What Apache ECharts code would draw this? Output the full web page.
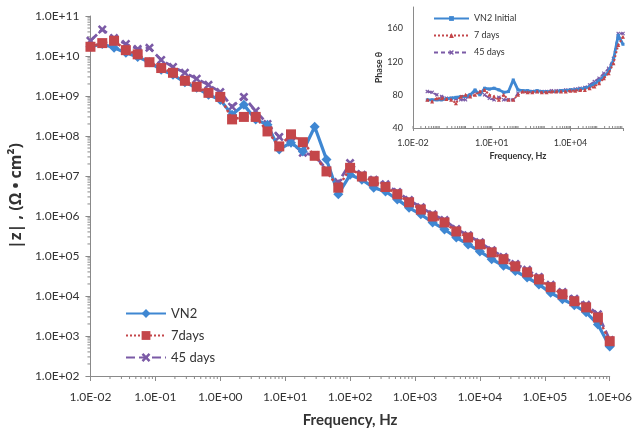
<!DOCTYPE html>
<html>
<head>
<meta charset="utf-8">
<script src="https://cdn.jsdelivr.net/npm/echarts@6/dist/echarts.min.js"></script>
<style>
html,body{margin:0;padding:0;background:#fff;}
#c{width:635px;height:433px;}
</style>
</head>
<body>
<div id="c"></div>
<script>
// Frequencies (Hz)
const freq = [0.01, 0.0152, 0.0231, 0.0351, 0.0534, 0.0811, 0.123, 0.187, 0.285, 0.433, 0.658, 1.0, 1.52, 2.31, 3.51, 5.34, 8.11, 12.3, 18.7, 28.5, 43.3, 65.8, 100, 152, 231, 351, 534, 811, 1230, 1870, 2850, 4330, 6580, 10000, 15200, 23100, 35100, 53400, 81100, 123000, 187000, 285000, 433000, 658000, 1000000];
// |Z| values (ohm cm2)
const zVN2 = [1.7e10, 2.0e10, 1.6e10, 1.2e10, 9.5e9, 7.0e9, 4.5e9, 3.4e9, 2.2e9, 1.6e9, 1.07e9, 8.0e8, 3.4e8, 6.0e8, 2.6e8, 1.9e8, 4.6e7, 6.8e7, 4.1e7, 1.7e8, 2.6e7, 3.5e6, 1.07e7, 8.1e6, 5.1e6, 4.1e6, 2.6e6, 1.6e6, 1.1e6, 6.9e5, 4.6e5, 2.9e5, 1.95e5, 1.3e5, 8.3e4, 5.7e4, 4.2e4, 2.9e4, 1.95e4, 1.2e4, 8.3e3, 5.9e3, 3.9e3, 1.95e3, 5.5e2];
const z7d = [1.7e10, 2.1e10, 2.4e10, 1.4e10, 1.1e10, 7.0e9, 5.0e9, 3.8e9, 2.4e9, 1.7e9, 1.2e9, 9.5e8, 2.6e8, 3.0e8, 3.0e8, 1.3e8, 5.5e7, 1.1e8, 7.0e7, 3.2e7, 1.3e7, 5.1e6, 1.6e7, 9.7e6, 7.3e6, 5.3e6, 3.5e6, 2.2e6, 1.45e6, 9.7e5, 6.9e5, 4.1e5, 2.9e5, 1.95e5, 1.23e5, 8.3e4, 5.5e4, 3.9e4, 2.6e4, 1.66e4, 1.1e4, 7.4e3, 5.2e3, 2.9e3, 7.4e2];
const z45d = [2.4e10, 4.6e10, 2.8e10, 2.0e10, 1.5e10, 1.6e10, 8.0e9, 5.3e9, 3.8e9, 2.7e9, 1.9e9, 1.25e9, 5.4e8, 9.5e8, 4.2e8, 2.0e8, 9.5e7, 7.0e7, 3.8e7, 3.3e7, 1.45e7, 6.8e6, 2.1e7, 1.07e7, 8.1e6, 6.2e6, 4.0e6, 2.5e6, 1.65e6, 1.1e6, 7.9e5, 4.7e5, 3.3e5, 2.2e5, 1.4e5, 9.5e4, 6.3e4, 4.5e4, 3.0e4, 1.9e4, 1.26e4, 8.5e3, 6.0e3, 3.5e3, 8.0e2];
// Phase inset
const phaseFreq = [0.0351, 0.0534, 0.0811, 0.123, 0.187, 0.285, 0.433, 0.658, 1.0, 1.52, 2.31, 3.51, 5.34, 8.11, 12.3, 18.7, 28.5, 43.3, 65.8, 100, 152, 231, 351, 534, 811, 1230, 1870, 2850, 4330, 6580, 10000, 15200, 23100, 35100, 53400, 81100, 123000, 187000, 285000, 433000, 658000, 1000000];
const pVN2 = [74, 74, 74, 74, 75, 76, 77, 78, 78, 80, 86, 80, 88, 87, 88, 86, 83, 84, 98, 86, 85, 85, 84, 85, 84, 84, 84, 84, 85, 85, 86, 86, 87, 88, 90, 93, 97, 102, 108, 122, 152, 141];
const p7d = [74, 72, 76, 76, 75, 74, 70, 78, 80, 78, 80, 84, 86, 80, 78, 74, 80, 74, 74, 80, 84, 83, 83, 84, 83, 83, 84, 84, 84, 84, 85, 85, 86, 86, 88, 90, 94, 100, 106, 118, 140, 150];
const p45d = [84, 83, 80, 78, 76, 76, 75, 74, 74, 80, 84, 82, 80, 76, 74, 77, 74, 74, 74, 82, 84, 84, 84, 84, 84, 84, 85, 85, 85, 86, 86, 87, 88, 89, 92, 96, 100, 106, 112, 124, 154, 154];
const mainNames = ['VN2', '7days', '45 days'];
const insetNames = ['VN2 Initial', '7 days', '45 days'];

const BLUE = '#3f87d2', RED = '#c4464a', PURPLE = '#7b5aa6';
const FONT = 'Lato, "Open Sans", sans-serif';
const XSYM = 'path://M2,0 L5,3 L8,0 L10,2 L7,5 L10,8 L8,10 L5,7 L2,10 L0,8 L3,5 L0,2 Z';

function fmtE(v) {
  const e = Math.round(Math.log10(v));
  const s = e < 0 ? '-' : '+';
  const a = Math.abs(e);
  return '1.0E' + s + (a < 10 ? '0' + a : a);
}
function pairs(xs, ys) { return xs.map((x, i) => [x, ys[i]]); }

// log minor tick values for axis decoration
const minorX = [];
for (let e = -2; e < 6; e++) for (let m = 2; m <= 9; m++) minorX.push(+(m * Math.pow(10, e)).toPrecision(3));
const minorY = [];
for (let e = 2; e < 11; e++) for (let m = 2; m <= 9; m++) minorY.push(+(m * Math.pow(10, e)).toPrecision(3));
const insetX = [];
for (let e = -2; e < 6; e++) for (let m = 1; m <= 9; m++) insetX.push(+(m * Math.pow(10, e)).toPrecision(3));

const axisGray = '#8a8a8a';
const chart = echarts.init(document.getElementById('c'));
chart.setOption({
  animation: false,
  textStyle: { fontFamily: FONT },
  grid: [
    { left: 89, top: 16, width: 523, height: 361 },
    { left: 413, top: 7, width: 210, height: 121, backgroundColor: '#fff', show: true, borderWidth: 0 }
  ],
  legend: [
    {
      data: mainNames, orient: 'vertical', left: 120, top: 302, itemWidth: 40, itemHeight: 11, itemGap: 9,
      textStyle: { fontSize: 13, color: '#333', fontFamily: FONT }
    },
    {
      data: insetNames.map(n => 'p:' + n), orient: 'vertical', left: 428, top: 9, itemWidth: 35, itemHeight: 6, itemGap: 8,
      formatter: n => n.slice(2),
      textStyle: { fontSize: 9, color: '#333', fontFamily: FONT }
    }
  ],
  xAxis: [
    {
      type: 'log', gridIndex: 0, logBase: 10, min: 0.01, max: 1e6, interval: 1,
      name: 'Frequency, Hz', nameLocation: 'middle', nameGap: 37,
      nameTextStyle: { fontSize: 15, fontWeight: 'bold', color: '#333', fontFamily: FONT },
      axisLine: { lineStyle: { color: axisGray } },
      axisTick: { length: 5, lineStyle: { color: axisGray } },
      axisLabel: { formatter: fmtE, fontSize: 12, color: '#333', margin: 15 },
      splitLine: { show: false }
    },
    {
      type: 'log', gridIndex: 1, logBase: 10, min: 0.01, max: 1e6, interval: 3,
      name: 'Frequency, Hz', nameLocation: 'middle', nameGap: 24,
      nameTextStyle: { fontSize: 9, fontWeight: 'bold', color: '#333', fontFamily: FONT },
      axisLine: { lineStyle: { color: axisGray } },
      axisTick: { length: 3, lineStyle: { color: axisGray } },
      axisLabel: {
        fontSize: 9, color: '#333', margin: 11,
        formatter: v => { const e = Math.round(Math.log10(v)); return ((e + 2) % 3 === 0) ? fmtE(v) : ''; }
      },
      splitLine: { show: false }
    }
  ],
  yAxis: [
    {
      type: 'log', gridIndex: 0, logBase: 10, min: 100, max: 1e11, interval: 1,
      name: '|z| , (Ω • cm²)', nameLocation: 'middle', nameGap: 66,
      nameTextStyle: { fontSize: 16, fontWeight: 'bold', color: '#333', fontFamily: '"Open Sans", Lato, sans-serif' },
      axisLine: { show: true, lineStyle: { color: axisGray } },
      axisTick: { show: true, length: 5, lineStyle: { color: axisGray } },
      axisLabel: { formatter: fmtE, fontSize: 12, color: '#333', margin: 11 },
      splitLine: { show: false }
    },
    {
      type: 'value', gridIndex: 1, min: 40, max: 186, interval: 40,
      name: 'Phase θ', nameLocation: 'middle', nameGap: 26,
      nameTextStyle: { fontSize: 9, fontWeight: 'bold', color: '#333', fontFamily: FONT },
      axisLine: { show: true, lineStyle: { color: axisGray } },
      axisTick: { show: false },
      axisLabel: { fontSize: 9, color: '#333', margin: 10, showMaxLabel: false,
        formatter: v => (v % 40 === 0 ? String(v) : '') },
      splitLine: { show: false }
    }
  ],
  series: [
    {
      name: 'minorX', type: 'custom', xAxisIndex: 0, yAxisIndex: 0, silent: true, clip: false,
      data: minorX.map(v => [v]),
      renderItem: (p, api) => { const c = api.coord([api.value(0), 100]); return { type: 'line', shape: { x1: c[0], y1: c[1], x2: c[0], y2: c[1] + 3 }, style: { stroke: axisGray, lineWidth: 1 } }; }
    },
    {
      name: 'minorY', type: 'custom', xAxisIndex: 0, yAxisIndex: 0, silent: true, clip: false,
      data: minorY.map(v => [0.01, v]),
      renderItem: (p, api) => { const c = api.coord([0.01, api.value(1)]); return { type: 'line', shape: { x1: c[0] - 3, y1: c[1], x2: c[0], y2: c[1] }, style: { stroke: axisGray, lineWidth: 1 } }; }
    },
    {
      name: 'insetTicks', type: 'custom', xAxisIndex: 1, yAxisIndex: 1, silent: true, clip: false,
      data: insetX.map(v => [v]),
      renderItem: (p, api) => { const c = api.coord([api.value(0), 40]); return { type: 'line', shape: { x1: c[0], y1: c[1] - 2, x2: c[0], y2: c[1] }, style: { stroke: axisGray, lineWidth: 1 } }; }
    },
    {
      name: mainNames[0], type: 'line', xAxisIndex: 0, yAxisIndex: 0, data: pairs(freq, zVN2),
      symbol: 'diamond', symbolSize: 10, color: BLUE,
      lineStyle: { width: 3.2, color: BLUE }, itemStyle: { color: BLUE }, z: 3
    },
    {
      name: mainNames[1], type: 'line', xAxisIndex: 0, yAxisIndex: 0, data: pairs(freq, z7d),
      symbol: 'rect', symbolSize: 10, color: RED,
      lineStyle: { width: 2.5, type: 'dotted', color: RED }, itemStyle: { color: RED }, z: 4
    },
    {
      name: mainNames[2], type: 'line', xAxisIndex: 0, yAxisIndex: 0, data: pairs(freq, z45d),
      symbol: XSYM, symbolSize: 9, color: PURPLE,
      lineStyle: { width: 2.8, type: [9, 4], color: PURPLE }, itemStyle: { color: PURPLE }, z: 2
    },
    {
      name: 'p:' + insetNames[0], type: 'line', xAxisIndex: 1, yAxisIndex: 1, data: pairs(phaseFreq, pVN2),
      symbol: 'rect', symbolSize: 3, color: BLUE,
      lineStyle: { width: 2.8, color: BLUE }, itemStyle: { color: BLUE }, z: 3
    },
    {
      name: 'p:' + insetNames[1], type: 'line', xAxisIndex: 1, yAxisIndex: 1, data: pairs(phaseFreq, p7d),
      symbol: 'triangle', symbolSize: 4, color: RED,
      lineStyle: { width: 2, type: 'dotted', color: RED }, itemStyle: { color: RED }, z: 4
    },
    {
      name: 'p:' + insetNames[2], type: 'line', xAxisIndex: 1, yAxisIndex: 1, data: pairs(phaseFreq, p45d),
      symbol: XSYM, symbolSize: 4, color: PURPLE,
      lineStyle: { width: 2, type: [4, 3], color: PURPLE }, itemStyle: { color: PURPLE }, z: 2
    }
  ]
});
</script>
</body>
</html>
